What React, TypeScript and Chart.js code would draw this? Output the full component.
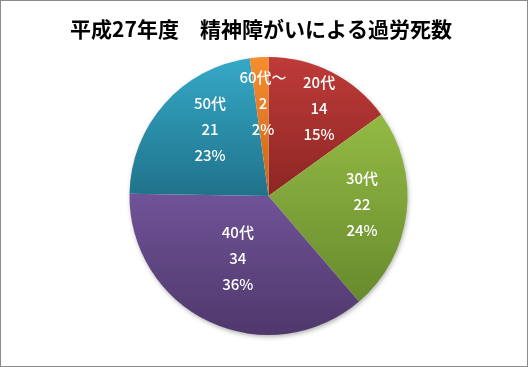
import React, { useEffect, useRef } from "react";
import { Chart, registerables } from "chart.js";

Chart.register(...registerables);

const title = "平成27年度　精神障がいによる過労死数";
const categories = ["20代", "30代", "40代", "50代", "60代～"];
const values = [14, 22, 34, 21, 2];
const percentLabels = ["15%", "24%", "36%", "23%", "2%"];
const gradientTop = ["#bf3b38", "#94ba45", "#705398", "#35a9c7", "#f68d2e"];
const gradientBottom = ["#8c2624", "#678a2c", "#4f386b", "#20728a", "#c9641c"];

// label placement (fraction of radius, angular nudge in degrees)
const labelRadius = [0.73, 0.675, 0.5, 0.64, 0.67];
const labelAngleNudge = [2.8, -1.9, 1, 7.3, 0.5];

function sliceGradient(c: any) {
  const chart = c.chart;
  const i = c.dataIndex;
  const area = chart.chartArea;
  if (!area || i === undefined) return gradientTop[i ?? 0];
  const cx = (area.left + area.right) / 2;
  const cy = (area.top + area.bottom) / 2;
  const r = Math.min(area.right - area.left, area.bottom - area.top) / 2;
  const total = values.reduce((a, b) => a + b, 0);
  let before = 0;
  for (let k = 0; k < i; k++) before += values[k];
  const start = -Math.PI / 2 + (before / total) * Math.PI * 2;
  const end = start + (values[i] / total) * Math.PI * 2;
  let minY = cy;
  let maxY = cy;
  const consider = (a: number) => {
    const y = cy + r * Math.sin(a);
    minY = Math.min(minY, y);
    maxY = Math.max(maxY, y);
  };
  consider(start);
  consider(end);
  for (let k = -4; k <= 4; k++) {
    const a = Math.PI / 2 + k * Math.PI;
    if (a > start && a < end) consider(a);
  }
  const g = chart.ctx.createLinearGradient(0, minY, 0, maxY);
  g.addColorStop(0, gradientTop[i]);
  g.addColorStop(1, gradientBottom[i]);
  return g;
}

const shadowPlugin = {
  id: "pieShadow",
  beforeDatasetsDraw(chart: any) {
    const meta = chart.getDatasetMeta(0);
    const a0 = meta.data[0];
    if (!a0) return;
    const ctx = chart.ctx;
    ctx.save();
    ctx.shadowColor = "rgba(0,0,0,0.35)";
    ctx.shadowBlur = 5;
    ctx.shadowOffsetX = 1;
    ctx.shadowOffsetY = 2;
    ctx.beginPath();
    ctx.arc(a0.x, a0.y, a0.outerRadius - 0.5, 0, Math.PI * 2);
    ctx.fillStyle = "#ffffff";
    ctx.fill();
    ctx.restore();
  },
};

const labelPlugin = {
  id: "sliceLabels",
  afterDatasetsDraw(chart: any) {
    const meta = chart.getDatasetMeta(0);
    const ctx = chart.ctx;
    ctx.save();
    ctx.fillStyle = "#ffffff";
    ctx.font = "500 15px 'Noto Sans CJK JP', sans-serif";
    ctx.textAlign = "center";
    ctx.textBaseline = "middle";
    meta.data.forEach((arc: any, i: number) => {
      const mid = (arc.startAngle + arc.endAngle) / 2 + (labelAngleNudge[i] * Math.PI) / 180;
      const rr = arc.outerRadius * labelRadius[i];
      const x = arc.x + Math.cos(mid) * rr;
      const y = arc.y + Math.sin(mid) * rr;
      const lines = [categories[i], String(values[i]), percentLabels[i]];
      lines.forEach((t, k) => ctx.fillText(t, x, y + (k - 1) * 26));
    });
    ctx.restore();
  },
};

const titlePlugin = {
  id: "customTitle",
  afterDraw(chart: any) {
    const ctx = chart.ctx;
    ctx.save();
    ctx.fillStyle = "#000000";
    ctx.font = "bold 21px 'Noto Sans CJK JP', sans-serif";
    ctx.textAlign = "center";
    ctx.textBaseline = "middle";
    ctx.fillText(title, 260, 28);
    ctx.restore();
  },
};

export default function App() {
  const ref = useRef<HTMLCanvasElement | null>(null);
  useEffect(() => {
    if (!ref.current) return;
    const chart = new Chart(ref.current, {
      type: "pie",
      data: {
        labels: categories,
        datasets: [
          {
            data: values,
            backgroundColor: sliceGradient as any,
            borderWidth: 0,
          },
        ],
      },
      options: {
        responsive: false,
        animation: false,
        layout: { padding: { top: 56, bottom: 31, left: 9, right: 0 } },
        plugins: {
          legend: { display: false },
          title: { display: false },
          tooltip: { enabled: false },
        },
      },
      plugins: [shadowPlugin, labelPlugin, titlePlugin],
    });
    return () => chart.destroy();
  }, []);
  return (
    <div
      style={{
        position: "fixed",
        left: 0,
        top: 0,
        width: 528,
        height: 367,
        boxSizing: "border-box",
        border: "1px solid #8a8a8a",
        background: "#ffffff",
      }}
    >
      <canvas ref={ref} width={526} height={365} style={{ display: "block" }} />
    </div>
  );
}
